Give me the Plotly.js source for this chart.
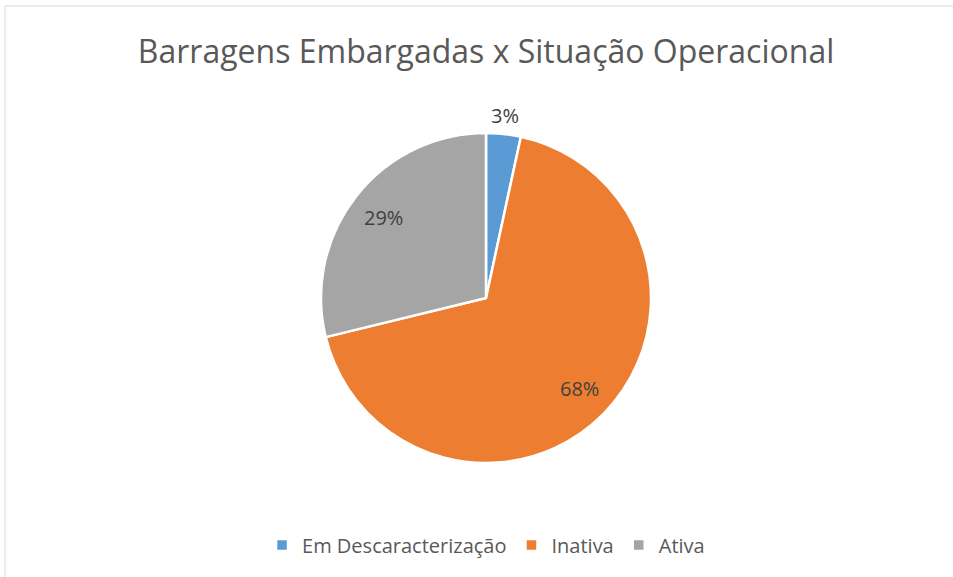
<!DOCTYPE html>
<html>
<head>
<meta charset="utf-8">
<script src="https://cdn.plot.ly/plotly-3.0.1.min.js"></script>
<style>
html,body{margin:0;padding:0;background:#fff;}
#chart{width:953px;height:577px;}
</style>
</head>
<body>
<div id="chart"></div>
<script>
const categories = ["Em Descaracterização", "Inativa", "Ativa"];
const values = [2, 40, 17];
const colors = ["#5B9BD5", "#ED7D31", "#A5A5A5"];
const titleText = "Barragens Embargadas x Situação Operacional";

const W = 953, H = 577;
const cx = 486, cy = 298, r = 165;
const FONT = "Open Sans, Liberation Sans, sans-serif";

const trace = {
  type: "pie",
  labels: categories,
  values: values,
  sort: false,
  direction: "clockwise",
  rotation: 0,
  marker: {colors: colors, line: {color: "#ffffff", width: 2.5}},
  textinfo: "none",
  hoverinfo: "label+percent",
  domain: {x: [(cx - r) / W, (cx + r) / W], y: [1 - (cy + r) / H, 1 - (cy - r) / H]}
};

// data labels placed along each slice's mid-angle, computed from the values
const total = values.reduce((a, b) => a + b, 0);
const labelRadius = [1.11, 0.79, 0.79];
const annotations = [];
let acc = 0;
values.forEach((v, i) => {
  const mid = (acc + v / 2) / total * 2 * Math.PI;
  acc += v;
  const px = cx + Math.sin(mid) * r * labelRadius[i];
  const py = cy - Math.cos(mid) * r * labelRadius[i];
  annotations.push({
    xref: "paper", yref: "paper",
    x: px / W, y: 1 - py / H,
    xanchor: "center", yanchor: "middle",
    showarrow: false,
    text: Math.round(v / total * 100) + "%",
    font: {family: FONT, size: 20, color: "#404040"}
  });
});

const layout = {
  width: W, height: H,
  margin: {l: 0, r: 0, t: 0, b: 0},
  paper_bgcolor: "#ffffff",
  showlegend: true,
  title: {
    text: titleText,
    x: 0.51, xanchor: "center",
    y: 1 - 52 / H, yanchor: "middle",
    font: {family: FONT, size: 32, color: "#595959"}
  },
  legend: {
    orientation: "h",
    x: 0.51, xanchor: "center",
    y: 1 - 545 / H, yanchor: "middle",
    font: {family: FONT, size: 20, color: "#595959"},
    traceorder: "normal",
    itemwidth: 30,
    itemclick: false
  },
  annotations: annotations,
  shapes: [
    {type: "line", xref: "paper", yref: "paper", x0: 5 / W, x1: 1, y0: 1 - 6 / H, y1: 1 - 6 / H, line: {color: "#d9d9d9", width: 1}},
    {type: "line", xref: "paper", yref: "paper", x0: 5 / W, x1: 5 / W, y0: 0, y1: 1 - 6 / H, line: {color: "#d9d9d9", width: 1}}
  ]
};

Plotly.newPlot("chart", [trace], layout, {displayModeBar: false, staticPlot: true});
</script>
</body>
</html>
